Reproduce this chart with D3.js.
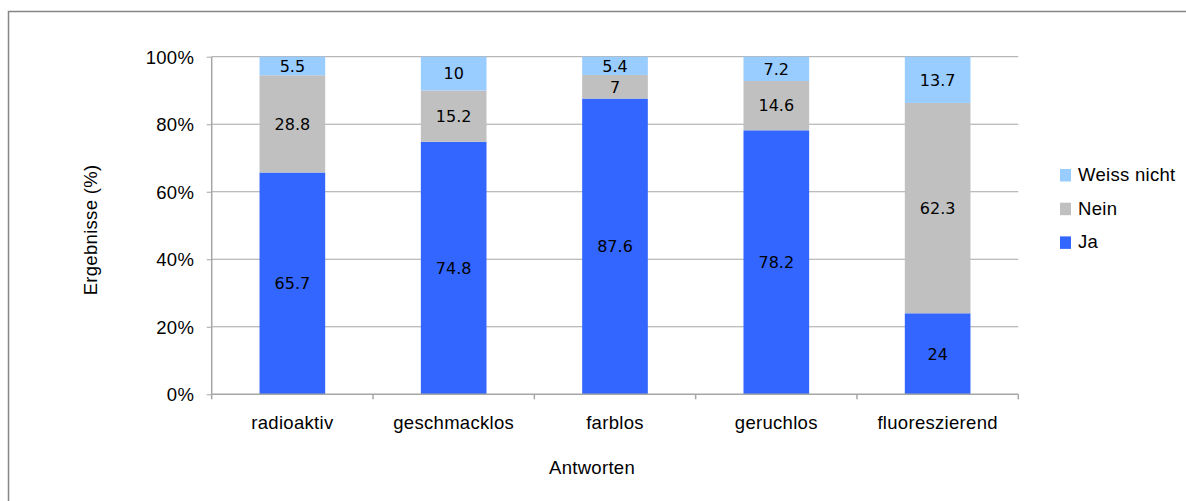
<!DOCTYPE html>
<html>
<head>
<meta charset="utf-8">
<script src="https://cdn.jsdelivr.net/npm/d3@7"></script>
<style>
  html, body { margin: 0; padding: 0; background: #fff; }
  svg { display: block; }
  .lbl { font-family: "Liberation Sans", Arial, sans-serif; font-size: 18.5px; fill: #000; letter-spacing: 0.3px; }
  .val { font-family: "DejaVu Sans", sans-serif; font-size: 16px; fill: #000; }
</style>
</head>
<body>
<svg id="chart" width="1186" height="501"></svg>
<script>
// Survey answers per term
const categories = ["radioaktiv", "geschmacklos", "farblos", "geruchlos", "fluoreszierend"];
const ja = [65.7, 74.8, 87.6, 78.2, 24];
const nein = [28.8, 15.2, 7, 14.6, 62.3];
const weissNicht = [5.5, 10, 5.4, 7.2, 13.7];
const seriesNames = ["Ja", "Nein", "Weiss nicht"];
const seriesColors = ["#3366FF", "#C0C0C0", "#99CCFF"];
const yTicks = [0, 20, 40, 60, 80, 100];

const svg = d3.select("#chart");

// Outer frame
svg.append("rect")
  .attr("x", 8.5).attr("y", 11.5)
  .attr("width", 1200).attr("height", 520)
  .attr("fill", "none").attr("stroke", "#868686").attr("stroke-width", 1.5);

const plot = { left: 211.7, right: 1018.3, top: 56.7, bottom: 394.3 };

const y = d3.scaleLinear().domain([0, 100]).range([plot.bottom, plot.top]);
const xOuter = d3.scaleBand().domain(categories).range([plot.left, plot.right]).padding(0);
const x = d3.scaleBand().domain(categories).range([plot.left, plot.right])
  .paddingInner(0.593).paddingOuter(0.2965);

// Horizontal gridlines
svg.append("g").selectAll("line").data(yTicks.filter(t => t > 0)).join("line")
  .attr("x1", plot.left).attr("x2", plot.right)
  .attr("y1", d => y(d)).attr("y2", d => y(d))
  .attr("stroke", "#A6A6A6").attr("stroke-width", 1);

// Stacked data
const rows = categories.map((c, i) => ({ cat: c, Ja: ja[i], Nein: nein[i], "Weiss nicht": weissNicht[i] }));
const stacked = d3.stack().keys(seriesNames)(rows);

const layers = svg.append("g").selectAll("g").data(stacked).join("g")
  .attr("fill", (d, i) => seriesColors[i]);

layers.selectAll("rect").data(d => d).join("rect")
  .attr("x", d => x(d.data.cat))
  .attr("width", x.bandwidth())
  .attr("y", d => y(d[1]))
  .attr("height", d => y(d[0]) - y(d[1]));

// Value labels centred in each segment
layers.selectAll("text").data(d => d.map(p => ({ p, key: d.key }))).join("text")
  .attr("class", "val")
  .attr("text-anchor", "middle")
  .attr("x", d => x(d.p.data.cat) + x.bandwidth() / 2)
  .attr("y", d => y((d.p[0] + d.p[1]) / 2))
  .attr("dy", "0.36em")
  .text(d => d.p.data[d.key]);

// Y axis
const yAxis = d3.axisLeft(y).tickValues(yTicks).tickFormat(d => d + "%").tickSize(5).tickPadding(10);
const gy = svg.append("g").attr("transform", `translate(${plot.left},0)`).call(yAxis);
gy.select(".domain").attr("stroke", "#A6A6A6").attr("stroke-width", 1.5).attr("d", `M0,${plot.top}V${plot.bottom}`);
gy.selectAll(".tick line").attr("stroke", "#A6A6A6").attr("stroke-width", 1);
gy.selectAll(".tick text").attr("class", "lbl").attr("dy", "0.36em").attr("x", -17.5);

// X axis: category labels, ticks at band edges
const gx = svg.append("g").attr("transform", `translate(0,${plot.bottom})`);
gx.append("line").attr("x1", plot.left).attr("x2", plot.right)
  .attr("stroke", "#A6A6A6").attr("stroke-width", 1.5);
const edges = categories.map(c => xOuter(c)).concat([plot.right]);
gx.selectAll("line.tk").data(edges).join("line").attr("class", "tk")
  .attr("x1", d => d).attr("x2", d => d).attr("y1", 0).attr("y2", 5)
  .attr("stroke", "#A6A6A6").attr("stroke-width", 1.5);
gx.selectAll("text").data(categories).join("text")
  .attr("class", "lbl").attr("text-anchor", "middle")
  .attr("x", d => x(d) + x.bandwidth() / 2)
  .attr("y", 35)
  .text(d => d);

// Axis titles
svg.append("text").attr("class", "lbl").attr("text-anchor", "middle")
  .attr("x", 592).attr("y", 474).text("Antworten");
svg.append("text").attr("class", "lbl").attr("text-anchor", "middle")
  .attr("transform", "translate(97,230) rotate(-90)").text("Ergebnisse (%)");

// Legend (top entry is the top segment)
const legendOrder = [2, 1, 0];
const lg = svg.append("g").selectAll("g").data(legendOrder).join("g")
  .attr("transform", (d, i) => `translate(1060,${169 + i * 33.7})`);
lg.append("rect").attr("width", 11).attr("height", 12.5).attr("fill", d => seriesColors[d]);
lg.append("text").attr("class", "lbl").attr("x", 18).attr("y", 12).text(d => seriesNames[d]);
</script>
</body>
</html>
